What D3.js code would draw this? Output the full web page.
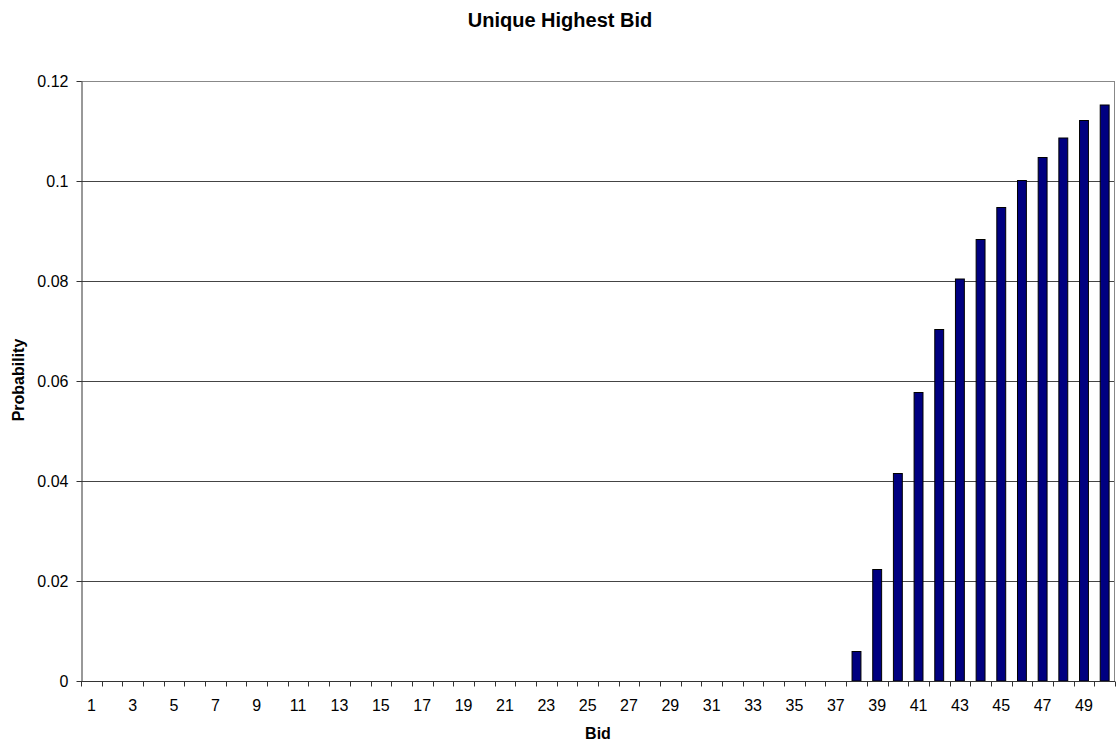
<!DOCTYPE html>
<html>
<head>
<meta charset="utf-8">
<script src="https://cdn.jsdelivr.net/npm/d3@7"></script>
<style>
  body { margin: 0; background: #fff; }
  text { font-family: "Liberation Sans", Arial, sans-serif; }
</style>
</head>
<body>
<svg id="chart" width="1116" height="745"></svg>
<script>
const TITLE = "Unique Highest Bid";
const X_LABEL = "Bid";
const Y_LABEL = "Probability";

const bids = d3.range(1, 51);
// bids 1..37 are zero
const probabilities = [
  0, 0, 0, 0, 0, 0, 0, 0, 0, 0,
  0, 0, 0, 0, 0, 0, 0, 0, 0, 0,
  0, 0, 0, 0, 0, 0, 0, 0, 0, 0,
  0, 0, 0, 0, 0, 0, 0,
  0.0059, 0.0223, 0.0415, 0.0577, 0.0703, 0.0804, 0.0883,
  0.0947, 0.1001, 0.1047, 0.1086, 0.1121, 0.1152
];
const yTicks = [0, 0.02, 0.04, 0.06, 0.08, 0.1, 0.12];

const margin = { top: 81, right: 1, bottom: 64, left: 81 };
const width = 1116, height = 745;

const svg = d3.select("#chart");

const x = d3.scaleBand()
  .domain(bids)
  .range([margin.left, width - margin.right])
  .paddingInner(0.57)
  .paddingOuter(0.285);

const y = d3.scaleLinear()
  .domain([0, 0.12])
  .range([height - margin.bottom, margin.top]);

// gridlines
svg.append("g")
  .selectAll("line").data(yTicks.filter(d => d > 0)).enter().append("line")
  .attr("x1", margin.left).attr("x2", width - margin.right)
  .attr("y1", d => Math.round(y(d)) + 0.5).attr("y2", d => Math.round(y(d)) + 0.5)
  .attr("stroke", d => d === 0.12 ? "#888" : "#444")
  .attr("stroke-width", 1);

// right border of plot area
svg.append("line")
  .attr("x1", width - margin.right - 0.5).attr("x2", width - margin.right - 0.5)
  .attr("y1", margin.top).attr("y2", height - margin.bottom)
  .attr("stroke", "#888");

// bars
svg.append("g")
  .selectAll("rect").data(bids.map((b, i) => ({ bid: b, p: probabilities[i] })).filter(d => d.p > 0))
  .enter().append("rect")
  .attr("x", d => x(d.bid))
  .attr("y", d => y(d.p))
  .attr("width", x.bandwidth())
  .attr("height", d => y(0) - y(d.p))
  .attr("fill", "#000080")
  .attr("stroke", "#000")
  .attr("stroke-width", 1);

// x axis: ticks on band edges, labels every other bid
const step = x.step();
const xAxisY = Math.round(y(0)) + 0.5;
const xAxis = svg.append("g");
xAxis.append("line")
  .attr("x1", margin.left).attr("x2", width - margin.right)
  .attr("y1", xAxisY).attr("y2", xAxisY)
  .attr("stroke", "#333");
xAxis.selectAll("line.tick").data(d3.range(0, bids.length + 1)).enter().append("line")
  .attr("class", "tick")
  .attr("x1", i => Math.round(margin.left + i * step) + 0.5)
  .attr("x2", i => Math.round(margin.left + i * step) + 0.5)
  .attr("y1", xAxisY).attr("y2", xAxisY + 5)
  .attr("stroke", "#333");
xAxis.selectAll("text").data(bids.filter(b => b % 2 === 1)).enter().append("text")
  .attr("x", b => x(b) + x.bandwidth() / 2)
  .attr("y", 711)
  .attr("text-anchor", "middle")
  .attr("font-size", 16)
  .attr("fill", "#000")
  .text(b => b);

// y axis
const yAxis = svg.append("g")
  .attr("transform", `translate(${margin.left + 0.5},0)`)
  .call(d3.axisLeft(y).tickValues(yTicks).tickSize(5).tickSizeOuter(0).tickFormat(d => String(+d.toFixed(2))));
yAxis.select(".domain").attr("stroke", "#333");
yAxis.selectAll(".tick line").attr("stroke", "#333");
yAxis.selectAll(".tick text")
  .attr("font-size", 16)
  .attr("font-family", "Liberation Sans, Arial, sans-serif")
  .attr("fill", "#000")
  .attr("x", -13);

// title and axis labels
svg.append("text")
  .attr("x", 560).attr("y", 27)
  .attr("text-anchor", "middle")
  .attr("font-size", 20).attr("font-weight", "bold")
  .text(TITLE);

svg.append("text")
  .attr("x", 598).attr("y", 739)
  .attr("text-anchor", "middle")
  .attr("font-size", 16).attr("font-weight", "bold")
  .text(X_LABEL);

svg.append("text")
  .attr("transform", `translate(24,380) rotate(-90)`)
  .attr("text-anchor", "middle")
  .attr("font-size", 16).attr("font-weight", "bold")
  .text(Y_LABEL);
</script>
</body>
</html>
